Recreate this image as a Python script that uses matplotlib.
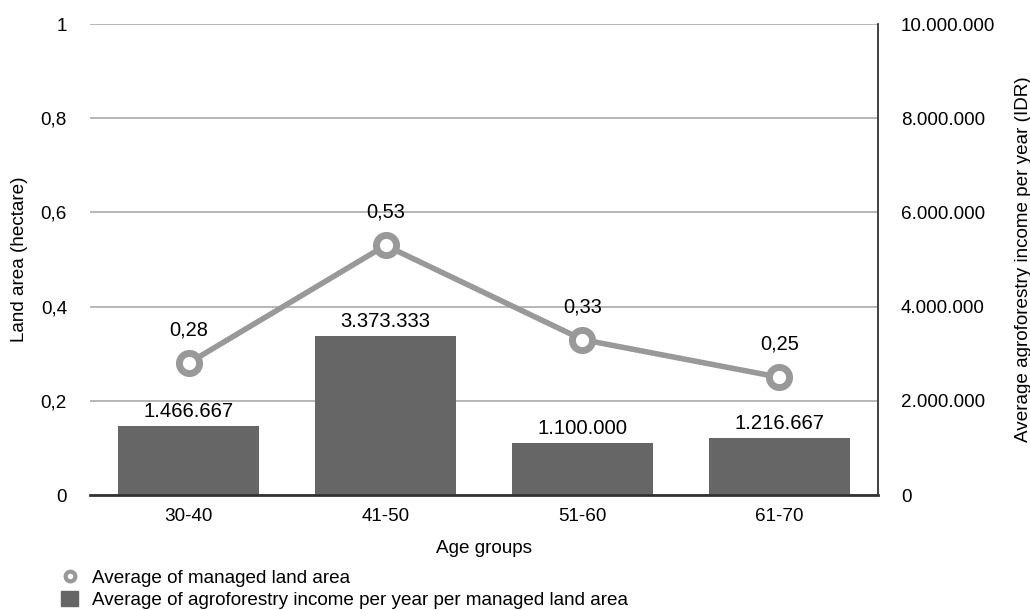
import matplotlib.pyplot as plt
from matplotlib.lines import Line2D
from matplotlib.patches import Patch

age_groups = ['30-40', '41-50', '51-60', '61-70']
land_area = [0.28, 0.53, 0.33, 0.25]
income = [1466667, 3373333, 1100000, 1216667]
left_ticks = [0, 0.2, 0.4, 0.6, 0.8, 1]
right_ticks = [0, 2000000, 4000000, 6000000, 8000000, 10000000]

plt.rcParams['font.family'] = ['Liberation Sans', 'DejaVu Sans']
plt.rcParams['font.size'] = 13.6

bar_col = '#666666'
line_col = '#999999'


def comma(v):
    s = ('%.2f' % v).rstrip('0').rstrip('.')
    return s.replace('.', ',')


def dots(v):
    return '{:,}'.format(int(v)).replace(',', '.')


fig = plt.figure(figsize=(10.3, 6.1), dpi=100)
ax = fig.add_axes([0.0874, 0.1885, 0.765, 0.772])
ax2 = ax.twinx()

x = list(range(len(age_groups)))

# bars on the income axis
ax2.bar(x, income, width=0.72, color=bar_col, zorder=2)
for xi, v in zip(x, income):
    ax2.text(xi, v + 110000, dots(v), ha='center', va='bottom', fontsize=14.6)

ax2.set_ylim(0, 10000000)
ax2.set_yticks(right_ticks)
ax2.set_yticklabels([dots(t) for t in right_ticks])
ax2.set_ylabel('Average agroforestry income per year (IDR)', labelpad=14)

# land area line drawn above the bars
ax3 = ax.twinx()
ax3.set_ylim(0, 1)
ax3.axis('off')
ax3.plot(x, land_area, color=line_col, lw=4, zorder=3)
ax3.plot(x, land_area, ls='none', marker='o', ms=14.5, mfc='white',
         mec=line_col, mew=5, zorder=4)
for xi, v in zip(x, land_area):
    ax3.text(xi, v + 0.05, comma(v), ha='center', va='bottom', fontsize=14.4)

ax.set_ylim(0, 1)
ax.set_xlim(-0.5, 3.5)
ax.set_yticks(left_ticks)
ax.set_yticklabels([comma(t) if t else '0' for t in left_ticks])
ax.set_ylabel('Land area (hectare)', labelpad=9)
ax.set_xticks(x)
ax.set_xticklabels(age_groups)
ax.set_xlabel('Age groups', labelpad=11)
ax.grid(axis='y', color='#aaaaaa', lw=1.2)
ax.set_axisbelow(True)

for a in (ax, ax2):
    for side in ('top', 'left', 'right', 'bottom'):
        a.spines[side].set_visible(False)
    a.tick_params(length=0)
ax.tick_params(axis='y', pad=16.5)
ax.tick_params(axis='x', pad=9)
ax2.tick_params(axis='y', pad=16.5)
ax2.spines['right'].set_visible(True)
ax2.spines['right'].set_color('#333333')
ax2.spines['right'].set_linewidth(1.3)
ax2.axhline(0, color='#333333', lw=2, zorder=4, clip_on=False)

handles = [
    Line2D([], [], color=line_col, marker='o', ls='none', ms=7,
           mfc='white', mec=line_col, mew=3),
    Patch(color=bar_col),
]
labels = ['Average of managed land area',
          'Average of agroforestry income per year per managed land area']
fig.legend(handles, labels, loc='lower left', bbox_to_anchor=(0.043, -0.026),
           frameon=False, handlelength=0.9, handleheight=0.9, handletextpad=0.7,
           labelspacing=0.2, fontsize=13.6)

fig.savefig('out.png', dpi=100)
